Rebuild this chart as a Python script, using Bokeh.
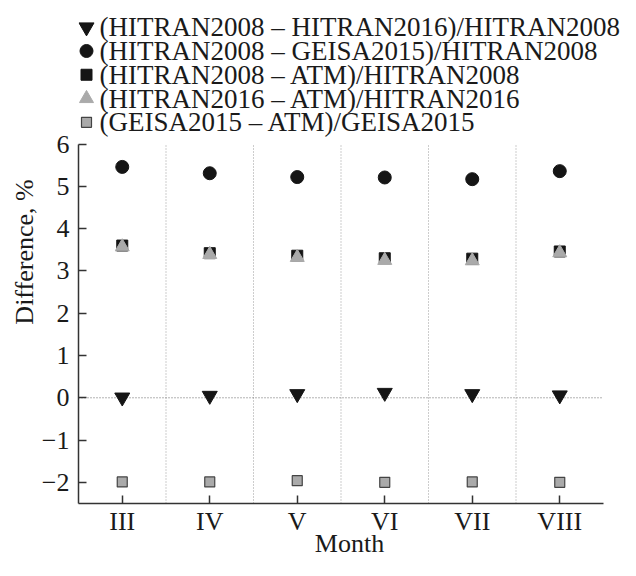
from bokeh.plotting import figure
from bokeh.models import FixedTicker, Range1d, Label
from bokeh.embed import file_html
from bokeh.resources import INLINE

months = ["III", "IV", "V", "VI", "VII", "VIII"]
h08_h16 = [0.01, 0.05, 0.09, 0.12, 0.09, 0.06]
h08_geisa = [5.46, 5.31, 5.22, 5.21, 5.17, 5.36]
h08_atm = [3.60, 3.42, 3.36, 3.30, 3.29, 3.46]
h16_atm = [3.57, 3.39, 3.32, 3.25, 3.24, 3.43]
geisa_atm = [-1.99, -1.99, -1.96, -2.00, -1.99, -2.00]
y_ticks = [-2, -1, 0, 1, 2, 3, 4, 5, 6]
y_lo, y_hi = -2.5, 6

labels = [
    "(HITRAN2008 \u2013 HITRAN2016)/HITRAN2008",
    "(HITRAN2008 \u2013 GEISA2015)/HITRAN2008",
    "(HITRAN2008 \u2013 ATM)/HITRAN2008",
    "(HITRAN2016 \u2013 ATM)/HITRAN2016",
    "(GEISA2015 \u2013 ATM)/GEISA2015",
]

xs = list(range(1, len(months) + 1))
x_lo, x_hi = xs[0] - 0.5, xs[-1] + 0.5
FONT = "Liberation Serif"

# layout (pixels)
W, H = 620, 560
BL = 78              # frame left (y axis position)
AX_RIGHT = 603       # where the x axis ends
AX_TOP = 145         # where y = 6 sits
AX_BOT = 508         # x axis position
BB = H - AX_BOT

ppu_y = (AX_BOT - AX_TOP) / (y_hi - y_lo)
ppu_x = (AX_RIGHT - BL) / (x_hi - x_lo)
frame_w = W - BL
frame_h = AX_BOT

p = figure(width=W, height=H, output_backend="svg", toolbar_location=None,
           x_range=Range1d(x_lo, x_lo + frame_w / ppu_x),
           y_range=Range1d(y_lo, y_hi + AX_TOP / ppu_y),
           min_border_left=BL, min_border_right=0, min_border_bottom=BB,
           min_border_top=0)
p.extra_x_ranges = {"px": Range1d(0, frame_w)}
p.extra_y_ranges = {"px": Range1d(frame_h, 0)}
p.outline_line_color = None
p.background_fill_color = "white"
p.grid.visible = False

# month separators and zero line
bounds = [x + 0.5 for x in xs[:-1]]
p.segment(x0=bounds, y0=[y_lo] * len(bounds), x1=bounds, y1=[y_hi] * len(bounds),
          line_color="#9a9a9a", line_dash="1 2", line_width=1)
p.segment(x0=[x_lo], y0=[0], x1=[x_hi], y1=[0],
          line_color="#666666", line_dash="1 2", line_width=1)

# axes
for ax in (p.xaxis[0], p.yaxis[0]):
    ax.axis_line_color = "#333333"
    ax.axis_line_width = 1.5
    ax.major_tick_line_color = "#333333"
    ax.major_tick_line_width = 1.5
    ax.major_tick_in = 8
    ax.major_tick_out = 0
    ax.minor_tick_line_color = None
    ax.major_label_text_font = FONT
    ax.major_label_text_font_size = "26px"
    ax.major_label_text_color = "#1a1a1a"
    ax.axis_label_text_font = FONT
    ax.axis_label_text_font_size = "26px"
    ax.axis_label_text_font_style = "normal"
    ax.axis_label_text_color = "#1a1a1a"

p.xaxis.bounds = (x_lo, x_hi)
p.xaxis.ticker = FixedTicker(ticks=xs)
p.xaxis.major_label_overrides = {x: m for x, m in zip(xs, months)}
p.xaxis.axis_label = "Month"
p.xaxis.major_label_standoff = 3
p.xaxis.axis_label_standoff = -10

p.yaxis.bounds = (y_lo, y_hi)
p.yaxis.ticker = FixedTicker(ticks=y_ticks)
p.yaxis.major_label_overrides = {t: (str(t).replace("-", "\u2212")) for t in y_ticks}
p.yaxis.axis_label = "Difference, %"
p.yaxis.major_label_standoff = 9
p.yaxis.axis_label_standoff = 0

black = "#151515"
gray = "#aaaaaa"
styles = [
    dict(marker="inverted_triangle", size=15, fill_color=black, line_color=black),
    dict(marker="circle", size=13, fill_color=black, line_color=black),
    dict(marker="square", size=11, fill_color=black, line_color=black),
    dict(marker="triangle", size=14, fill_color=gray, line_color=gray),
    dict(marker="square", size=10, fill_color=gray, line_color="#444444", line_width=1.2),
]
series = [h08_h16, h08_geisa, h08_atm, h16_atm, geisa_atm]

for ys, st in zip(series, styles):
    p.scatter(xs, ys, **st)

# legend (drawn in pixel units above the axes)
LEG_X, TXT_X, ROW0, ROW = 86 - BL, 99 - BL, 27, 24
rows = [ROW0 + i * ROW for i in range(len(labels))]
for yrow, st, lab in zip(rows, styles, labels):
    p.scatter([LEG_X], [yrow], x_range_name="px", y_range_name="px", **st)
    p.add_layout(Label(x=TXT_X, y=yrow, text=lab, x_range_name="px",
                       y_range_name="px", text_font=FONT,
                       text_font_size="27px", text_color="#1a1a1a",
                       text_baseline="middle", text_align="left"))

open("out.html", "w").write(file_html(p, INLINE))
